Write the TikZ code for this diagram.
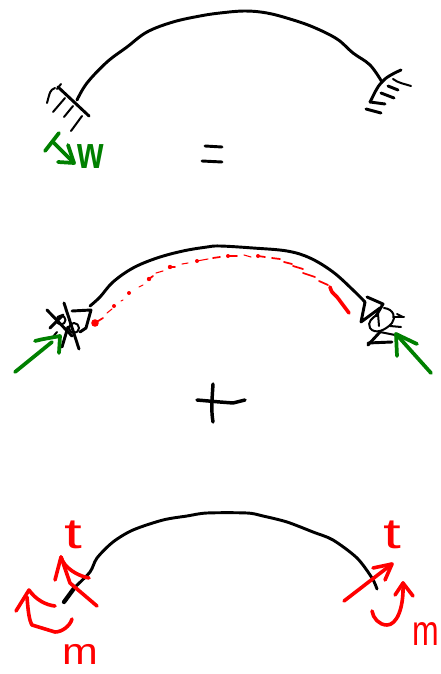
\documentclass[tikz,border=0pt]{standalone}
\usepackage{fontspec}
\setmainfont{Liberation Sans}
\definecolor{penG}{RGB}{0,128,0}
\definecolor{penR}{RGB}{255,0,0}
\tikzset{
  pen/.style={line width=2.2pt,line cap=round,line join=round,black},
  fine/.style={line width=1.5pt,line cap=round,line join=round,black},
  gpen/.style={line width=2.8pt,line cap=round,line join=round,penG},
  rpen/.style={line width=2.7pt,line cap=round,line join=round,penR},
  rthin/.style={line width=.8pt,line cap=round,penR},
  rmid/.style={line width=1.3pt,line cap=round,penR},
  lab/.style={inner sep=0pt,font=\fontsize{32}{32}\selectfont},
}
\begin{document}
\begin{tikzpicture}[x=.75pt,y=-.75pt]
\useasboundingbox (0,0) rectangle (440,674);
% top arch
\draw[pen] plot[smooth,tension=.6] coordinates {(77,100)(87,83)(107,62)(127,47)(147,32)(173,22)(200,16)(220,13)(245,11)(267,13)(290,19)(313,27)(337,39)(353,53)(370,65)(382,82)};
% top-left support
\draw[pen] (58,87) -- (89,116);
\draw[fine] (61,84) -- (57,89);
\draw[fine] (47,103) .. controls (50,92) and (50,90) .. (55,88);
\draw[fine] (53,112) -- (65,98);
\draw[fine] (64,117) -- (73,106);
\draw[fine] (71,131) -- (82,116);
% top-right support
\draw[pen] (401,70) .. controls (392,74) and (385,78) .. (382,82) .. controls (376,88) and (374,95) .. (370,102);
\draw[fine] (393,79) .. controls (398,83) and (405,84) .. (411,86);
\draw[pen] (388,86) -- (398,90);
\draw[pen] (381,93) -- (394,98);
\draw[pen] (370,102) -- (385,104);
\draw[pen] (366,109) -- (381,113);
% green w arrow
\draw[gpen] (59,133) -- (45,151);
\draw[gpen] (53,142) -- (74,163);
\draw[gpen] (68,145) -- (74,163) -- (58,162);
\node[lab,text=penG,xscale=.75,font=\fontsize{34}{34}\selectfont\bfseries] (labw) at (91,157) {w};
% equals
\draw[pen] (205,146) -- (222,147);
\draw[pen] (202,161) -- (222,162);
% middle arch
\draw[pen] plot[smooth,tension=.6] coordinates {(90,306)(100,297)(113,282)(133,268)(157,258)(183,251)(207,247)(220,246)(253,248)(287,251)(310,258)(333,272)(353,290)(365,302)};
% red dashed
\fill[penR] (95,323) circle (3.8);
\draw[rmid] (95,323) -- (103,318);
\draw[rthin] (107,313) -- (112,309);
\fill[penR] (114,306) circle (2);
\draw[rthin] (121,301) -- (123,300);
\fill[penR] (129,293) circle (2);
\draw[rthin] (139,287) -- (143,285);
\fill[penR] (149,279) circle (2.2);
\draw[rmid] (149,279) -- (153,276);
\draw[rthin] (156,273) -- (163,271);
\fill[penR] (170,267) circle (2.2);
\draw[rmid] (170,267) -- (175,267);
\draw[rthin] (182,264) -- (188,263);
\fill[penR] (197,261) circle (2);
\draw[rthin] (197,261) -- (208,259);
\draw[rmid] (213,258) -- (220,257);
\fill[penR] (228,256) circle (2);
\draw[rmid] (228,256) -- (237,256);
\draw[rthin] (244,255) -- (251,257);
\fill[penR] (258,256) circle (2);
\draw[rmid] (258,256) -- (265,257);
\draw[rmid] (272,258) -- (280,259);
\draw[rmid] (284,262) -- (292,264);
\draw[rmid] (293,266) -- (303,269);
\draw[rmid] (303,273) -- (315,277);
\draw[rmid] (319,281) -- (328,285);
\draw[rpen] plot[smooth] coordinates {(330,287)(332,292)(337,297)(343,305)(349,313)};
% middle-left support
\draw[pen] (64,303) -- (79,349);
\draw[pen] (47,310) -- (72,336);
\draw[pen] (63,315) -- (50,328);
\draw[pen] (72,311) -- (91,310) -- (86,328) -- (80,332);
\draw[fine] (61,320) circle (4.5);
\draw[fine] (74,328) circle (5);
\draw[pen] (68,327) -- (62,347);
\draw[fine] (52,338) -- (57,332);
% green left arrow
\draw[gpen] (15,372) -- (52,342);
\draw[gpen] (35,341) .. controls (42,339) and (50,338) .. (60,336) -- (59,353);
% middle-right support
\draw[pen] (365,302) -- (361,322) -- (380,308);
\draw[pen] (367,297) -- (383,304) -- (376,316);
\draw[fine] (384,308) .. controls (394,309) and (396,318) .. (392,323) .. controls (386,330) and (375,335) .. (370,328) .. controls (367,322) and (372,318) .. (378,314) -- (379,326);
\draw[fine] (393,317) -- (404,317);
\draw[fine] (397,314) -- (403,317);
\draw[fine] (390,326) -- (401,327);
\draw[fine] (380,332) -- (395,335);
\draw[pen] (380,332) -- (368,345);
\draw[pen] (368,343) -- (392,342);
% green right arrow
\draw[gpen] (431,373) -- (396,334);
\draw[gpen] (417,344) -- (396,334) -- (397,356);
% plus
\draw[line width=2.6pt,line cap=round,line join=round] (197,400) -- (220,402) -- (233,403) -- (245,400);
\draw[line width=2.6pt,line cap=round] (213,384) .. controls (212,400) and (211,410) .. (213,422);
% bottom arch
\draw[line width=3.2pt,line cap=round,black] (64,602) -- (75,587);
\draw[pen] plot[smooth,tension=.5] coordinates {(75,587)(90,572)(97,558)(113,542)(133,530)(163,520)(187,516)(207,513)(247,513)(263,516)(287,522)(313,532)(333,540)(357,558)(372,578)(377,589)};
% bottom-left red
\node[lab,text=penR,xscale=1.5] (tleft) at (73,535) {t};
\draw[rpen] (97,606) -- (70,583) -- (61,557);
\draw[rpen] (55,580) -- (61,557);
\draw[rpen] (61,557) .. controls (64,568) and (78,576) .. (89,578);
\draw[rpen] (55,606) .. controls (46,605) and (36,600) .. (29,590) -- (16,611);
\draw[rpen] (27,597) .. controls (28,610) and (29,620) .. (32,625) -- (55,632) .. controls (62,632) and (70,626) .. (72,619);
\node[lab,text=penR,font=\fontsize{28}{28}\selectfont,xscale=1.15] (mleft) at (80,654) {m};
% bottom-right red
\node[lab,text=penR,xscale=1.5] (tright) at (392,535) {t};
\draw[rpen] (344,601) -- (392,564);
\draw[rpen] (373,568) -- (392,564) -- (385,580);
\draw[rpen] (372,611) .. controls (373,618) and (379,625) .. (387,625) .. controls (396,625) and (404,610) .. (403,583);
\draw[rpen] (395,595) -- (403,583) -- (413,596);
\node[lab,text=penR,anchor=east,xscale=.75] (mright) at (439,634) {m};
\end{tikzpicture}
\end{document}
